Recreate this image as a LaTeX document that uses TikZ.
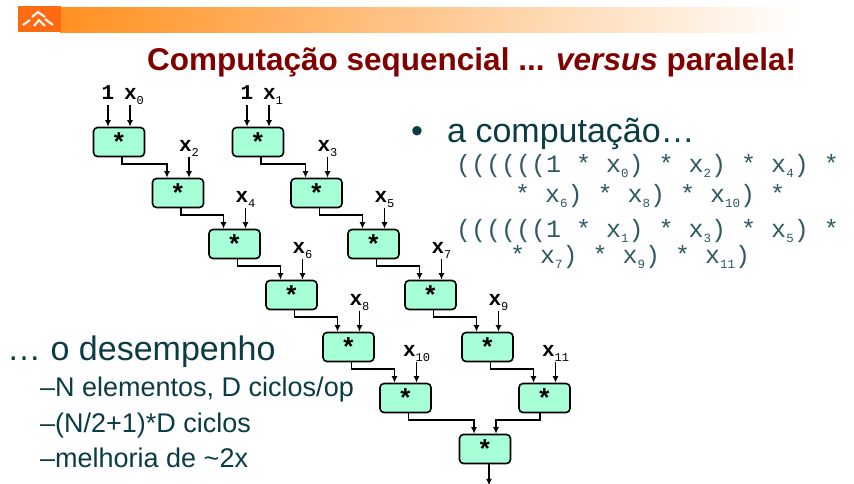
\documentclass[tikz,border=0pt]{standalone}
\usepackage{fontspec}
\setmainfont{Liberation Sans}
\setmonofont{Liberation Mono}
\usetikzlibrary{calc,arrows.meta}
\definecolor{boxgreen}{HTML}{A6FFD6}
\definecolor{titlered}{HTML}{800000}
\definecolor{slateteal}{HTML}{0B3C44}
\definecolor{monoteal}{HTML}{2F5A60}
\definecolor{logoorange}{HTML}{FF6A13}
\definecolor{barorange}{HTML}{FF9020}
\newcommand{\makemul}[3]{
	\node[mulbox] (#1) at (#2,#3) {\raisebox{-7pt}{*}};
	\coordinate (#1a) at ($(#1.north)+(-11,0)$);
	\coordinate (#1b) at ($(#1.north)+(11,0)$);
	\coordinate (#1o) at ($(#1.south)+(3,0)$);
}
\newcommand{\makelink}[2]{
	\draw[wire] (#1o) -- ++(0,6.5) -| (#2a);
}
\newcommand{\xsub}[1]{x\raisebox{-5pt}{\fontsize{12}{12}\selectfont\mdseries #1}}
\newcommand{\csub}[1]{x\raisebox{-5pt}{\fontsize{12.5}{12.5}\selectfont #1}}
\tikzset{
	mulbox/.style={draw, fill=boxgreen, rounded corners=4pt, line width=1.6pt, minimum width=51pt, minimum height=29pt, inner sep=0pt, font=\fontsize{26}{26}\selectfont\ttfamily\bfseries},
	wire/.style={line width=1.5pt, -{Latex[length=6.5pt,width=6pt]}},
	inlabel/.style={inner sep=0pt, anchor=south, text depth=5pt, font=\fontsize{21}{21}\selectfont\ttfamily\bfseries},
	monoline/.style={inner sep=0pt, anchor=base west, text=monoteal, font=\fontsize{25}{25}\selectfont\ttfamily},
	bodyline/.style={inner sep=0pt, anchor=base west, text=slateteal, font=\fontsize{27}{27}\selectfont},
	headline/.style={inner sep=0pt, anchor=base west, text=slateteal, font=\fontsize{34}{34}\selectfont}
}
\begin{document}
\begin{tikzpicture}[x=1pt,y=-1pt]
	\useasboundingbox (0,0) rectangle (854,483);
	\fill[white] (0,0) rectangle (854,483);

	% header bar
	\shade[left color=barorange, right color=white] (60,7) rectangle (800,32);
	\fill[logoorange] (18,6) rectangle (60.5,32);
	\draw[white, line width=2pt] (23,25) -- (30,20) (32,17) -- (38,12) -- (45,17) (34,26) -- (39,20) -- (45,26) (45,19) -- (53,25);

	\node[inner sep=0pt, anchor=base west, text=titlered, font=\fontsize{31.5}{31.5}\selectfont\bfseries] (title) at (147,70) {Computação sequencial ... \textit{versus} paralela!};

	% left chain
	\makemul{la}{119}{142}
	\makemul{lb}{178}{193}
	\makemul{lc}{234.5}{244}
	\makemul{ld}{291.5}{295}
	\makemul{le}{348.5}{347}
	\makemul{lf}{405.5}{398}
	% right chain
	\makemul{ra}{258}{142}
	\makemul{rb}{316.5}{193}
	\makemul{rc}{373.5}{244}
	\makemul{rd}{430.5}{295}
	\makemul{re}{487.5}{347}
	\makemul{rf}{544.5}{398}
	\makemul{end}{485}{449}

	\node[inlabel] (one0) at ($(laa)+(0,-22)$) {1};
	\node[inlabel] (x0) at ($(lab)+(4,-22)$) {\xsub{0}};
	\node[inlabel] (one1) at ($(raa)+(0,-22)$) {1};
	\node[inlabel] (x1) at ($(rab)+(4,-22)$) {\xsub{1}};
	\node[inlabel] (x2) at ($(lbb)+(0,-21)$) {\xsub{2}};
	\node[inlabel] (x3) at ($(rbb)+(0,-21)$) {\xsub{3}};
	\node[inlabel] (x4) at ($(lcb)+(0,-21)$) {\xsub{4}};
	\node[inlabel] (x5) at ($(rcb)+(0,-21)$) {\xsub{5}};
	\node[inlabel] (x6) at ($(ldb)+(0,-21)$) {\xsub{6}};
	\node[inlabel] (x7) at ($(rdb)+(0,-21)$) {\xsub{7}};
	\node[inlabel] (x8) at ($(leb)+(0,-21)$) {\xsub{8}};
	\node[inlabel] (x9) at ($(reb)+(0,-21)$) {\xsub{9}};
	\node[inlabel] (x10) at ($(lfb)+(0,-21)$) {\xsub{10}};
	\node[inlabel] (x11) at ($(rfb)+(0,-21)$) {\xsub{11}};

	\draw[wire] (one0) -- (laa);
	\draw[wire] (x0.south -| lab) -- (lab);
	\draw[wire] (one1) -- (raa);
	\draw[wire] (x1.south -| rab) -- (rab);
	\draw[wire] (x2) -- (lbb);
	\draw[wire] (x3) -- (rbb);
	\draw[wire] (x4) -- (lcb);
	\draw[wire] (x5) -- (rcb);
	\draw[wire] (x6) -- (ldb);
	\draw[wire] (x7) -- (rdb);
	\draw[wire] (x8) -- (leb);
	\draw[wire] (x9) -- (reb);
	\draw[wire] (x10) -- (lfb);
	\draw[wire] (x11) -- (rfb);

	\makelink{la}{lb}
	\makelink{lb}{lc}
	\makelink{lc}{ld}
	\makelink{ld}{le}
	\makelink{le}{lf}
	\makelink{ra}{rb}
	\makelink{rb}{rc}
	\makelink{rc}{rd}
	\makelink{rd}{re}
	\makelink{re}{rf}
	\makelink{lf}{end}
	\coordinate (rfo) at ($(rf.south)+(-4.5,0)$);
	\draw[wire] (rfo) -- ++(0,6.5) -| (endb);
	\coordinate (endo) at ($(end.south)+(4,0)$);
	\coordinate (out) at ($(end.south)+(4,21)$);
	\draw[wire] (endo) -- (out);

	% right text
	\node[headline] (dot) at (411,142) {•};
	\node[headline] (comp) at (447,142) {a computação…};
	\node[monoline] (expa) at (456,172) {((((((1 * \csub{0}) * \csub{2}) * \csub{4}) *};
	\node[monoline] (expb) at (515,202) {* \csub{6}) * \csub{8}) * \csub{10}) *};
	\node[monoline] (expc) at (456,237) {((((((1 * \csub{1}) * \csub{3}) * \csub{5}) *};
	\node[monoline] (expd) at (510,263) {* \csub{7}) * \csub{9}) * \csub{11})};

	% left text
	\node[headline] (perf) at (7,360) {… o desempenho};
	\node[bodyline] (lina) at (40,396) {–N elementos, D ciclos/op};
	\node[bodyline] (linb) at (40,432) {–(N/2+1)*D ciclos};
	\node[bodyline] (linc) at (40,467) {–melhoria de \textasciitilde 2x};
\end{tikzpicture}
\end{document}
